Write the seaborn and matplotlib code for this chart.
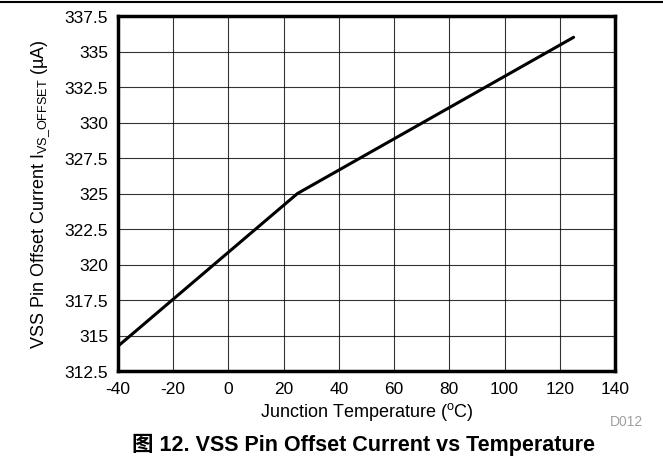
import matplotlib
matplotlib.use("Agg")
import matplotlib.pyplot as plt
import seaborn as sns
import pandas as pd
from matplotlib.lines import Line2D

temps = [-40, 25, 125]
current = [314.25, 325.0, 336.0]
xticks = [-40, -20, 0, 20, 40, 60, 80, 100, 120, 140]
yticks = [312.5, 315, 317.5, 320, 322.5, 325, 327.5, 330, 332.5, 335, 337.5]
ytick_labels = ["312.5", "315", "317.5", "320", "322.5", "325", "327.5", "330", "332.5", "335", "337.5"]

sns.set_theme(style="white")
plt.rcParams['font.family'] = ['Liberation Sans', 'Noto Sans CJK SC', 'DejaVu Sans']
plt.rcParams['mathtext.fontset'] = 'custom'
plt.rcParams['mathtext.rm'] = 'Liberation Sans'
plt.rcParams['mathtext.it'] = 'Liberation Sans'

df = pd.DataFrame({"T": temps, "I": current})

fig = plt.figure(figsize=(6.63, 4.60), dpi=100)
ax = fig.add_axes([118/663, 1-372/460, (615-118)/663, (372-17)/460])

sns.lineplot(data=df, x="T", y="I", ax=ax, color="black", linewidth=2.2)

ax.set_xlim(-40, 140)
ax.set_ylim(312.5, 337.5)
ax.set_xticks(xticks)
ax.set_xticklabels([str(t) for t in xticks])
ax.set_yticks(yticks)
ax.set_yticklabels(ytick_labels)
ax.grid(True, color="black", linewidth=0.8, alpha=0.8)
ax.tick_params(axis="both", length=0, labelsize=12.5, colors="black")
ax.tick_params(axis="y", pad=7)
ax.tick_params(axis="x", pad=7)
for s in ax.spines.values():
    s.set_visible(True)
    s.set_color("black")
    s.set_linewidth(2.5)

ax.set_xlabel("Junction Temperature ($\\mathregular{^{o}}$C)", fontsize=13, labelpad=3, color="black")
ax.set_ylabel("VSS Pin Offset Current I$_{\\mathregular{VS\\_OFFSET}}$ (\u00b5A)", fontsize=13, labelpad=9, color="black")

fig.text(643/663, 1-422/460, "D012", ha="right", va="center", fontsize=10, color="#a0a0a0")
fig.text(363/663, 1-445/460, "图 12. VSS Pin Offset Current vs Temperature", ha="center", va="center",
         fontsize=15.5, fontweight="bold", color="black",
         family=['Liberation Sans', 'Noto Sans CJK SC'])

fig.add_artist(Line2D([0, 1], [1-3/460, 1-3/460], transform=fig.transFigure, color="black", linewidth=1.5))

fig.savefig("out.png", dpi=100)
